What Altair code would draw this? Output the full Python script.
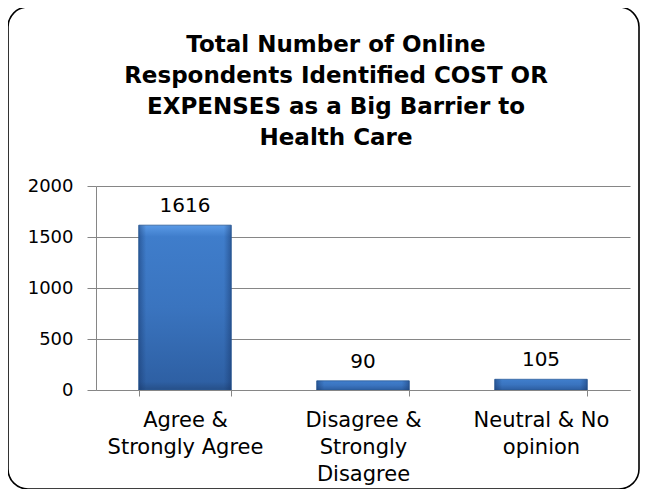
import altair as alt
import pandas as pd

categories = ["Agree &|Strongly Agree", "Disagree &|Strongly|Disagree", "Neutral & No|opinion"]
counts = [1616, 90, 105]
y_ticks = [0, 500, 1000, 1500, 2000]
title_lines = [
    "Total Number of Online",
    "Respondents Identified COST OR",
    "EXPENSES as a Big Barrier to",
    "Health Care",
]

df = pd.DataFrame({"category": categories, "count": counts})
FONT = "DejaVu Sans"

x_enc = alt.X(
    "category:N",
    sort=categories,
    title=None,
    scale=alt.Scale(paddingInner=0.48, paddingOuter=0.24),
    axis=alt.Axis(
        labelExpr="split(datum.label, '|')",
        labelAngle=0,
        tickBand="extent",
        labelFont=FONT,
        labelFontSize=21,
        labelColor="#000000",
        labelLineHeight=27,
        labelPadding=13,
        labelBaseline="top",
        tickSize=6,
        tickColor="#868686",
        domainColor="#868686",
        grid=False,
        zindex=1,
    ),
)
y_enc = alt.Y(
    "count:Q",
    title=None,
    scale=alt.Scale(domain=[0, 2000]),
    axis=alt.Axis(
        values=y_ticks,
        format="d",
        labelFont=FONT,
        labelFontSize=18,
        labelColor="#000000",
        labelPadding=14,
        tickSize=9,
        tickColor="#868686",
        domainColor="#868686",
        gridColor="#868686",
        gridWidth=1,
    ),
)

frame = alt.Chart(pd.DataFrame({"f": [0]})).mark_rect(
    fill="transparent", stroke="black", strokeWidth=1.6, cornerRadius=20
).encode(
    x=alt.value(-88), x2=alt.value(543), y=alt.value(-179), y2=alt.value(303)
)

base_grad = alt.LinearGradient(
    gradient="linear",
    stops=[
        alt.GradientStop(color="#5A9AE6", offset=0),
        alt.GradientStop(color="#3F7DCB", offset=0.07),
        alt.GradientStop(color="#3A74BF", offset=0.5),
        alt.GradientStop(color="#2E60A4", offset=0.95),
        alt.GradientStop(color="#264F88", offset=1),
    ],
    x1=0, x2=0, y1=0, y2=1,
)
edge_grad = alt.LinearGradient(
    gradient="linear",
    stops=[
        alt.GradientStop(color="rgba(20,50,100,0.45)", offset=0),
        alt.GradientStop(color="rgba(20,50,100,0.0)", offset=0.08),
        alt.GradientStop(color="rgba(20,50,100,0.0)", offset=0.92),
        alt.GradientStop(color="rgba(20,50,100,0.45)", offset=1),
    ],
    x1=0, x2=1, y1=0, y2=0,
)

bars = alt.Chart(df).mark_bar(color=base_grad, stroke="#2B5A96", strokeWidth=0.8).encode(x=x_enc, y=y_enc)
edges = alt.Chart(df).mark_bar(color=edge_grad).encode(x=x_enc, y=y_enc)
labels = alt.Chart(df).mark_text(
    baseline="alphabetic", dy=-13, font=FONT, fontSize=20, color="#000000"
).encode(x=x_enc, y=y_enc, text="count:Q")

chart = alt.layer(frame, bars, edges, labels).properties(
    width=534,
    height=204,
    autosize=alt.AutoSizeParams(type="none"),
    padding={"left": 88, "top": 178, "right": 10, "bottom": 99},
    title=alt.TitleParams(
        text=title_lines,
        font=FONT,
        fontSize=23,
        fontWeight="bold",
        color="#000000",
        lineHeight=31,
        anchor="middle",
        dx=-27,
        dy=188,
        offset=44,
    ),
).configure_view(stroke=None)

chart.save("out.html", embed_options={"renderer": "svg", "actions": False})
